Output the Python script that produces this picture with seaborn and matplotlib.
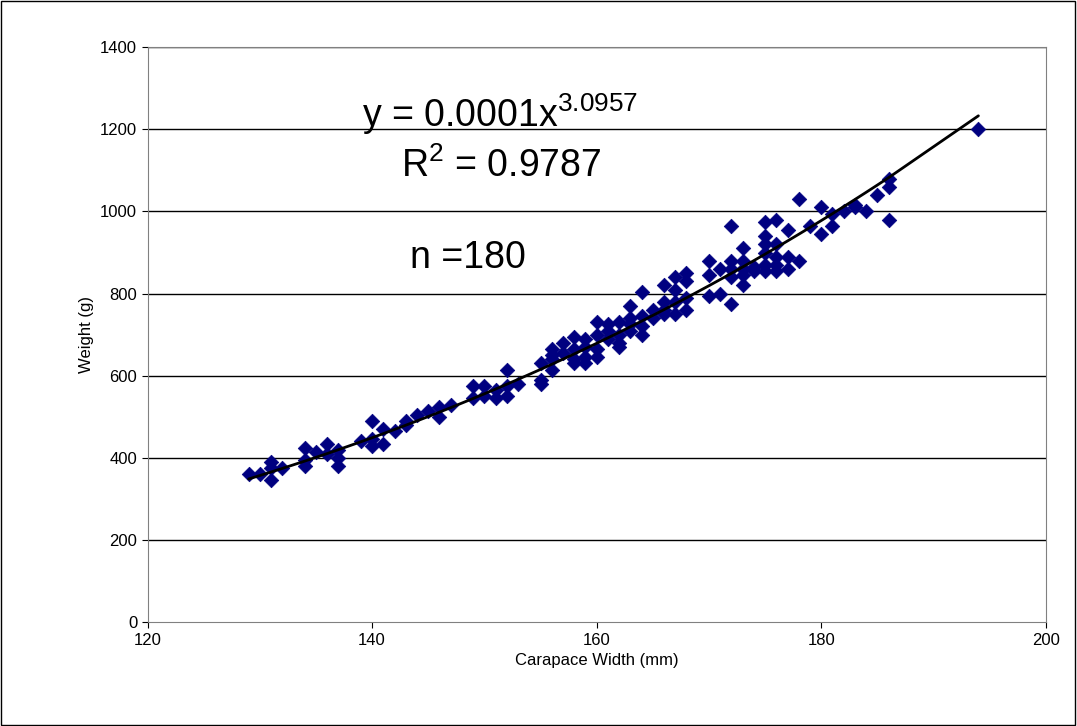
import numpy as np
import pandas as pd
import matplotlib
matplotlib.use("Agg")
import matplotlib.pyplot as plt
import seaborn as sns

# carapace width (mm) -> weights (g)
readings = {
    129: [360], 130: [360], 131: [390, 375, 345], 132: [375],
    134: [425, 395, 380], 135: [415], 136: [435, 410], 137: [420, 400, 380],
    139: [440], 140: [490, 445, 430], 141: [470, 435], 142: [465],
    143: [490, 480], 144: [505], 145: [515], 146: [525, 500], 147: [530],
    149: [575, 545], 150: [575, 550], 151: [565, 545], 152: [615, 575, 550],
    153: [580], 155: [630, 590, 580], 156: [665, 650, 640, 615],
    157: [680, 655], 158: [695, 665, 640, 630], 159: [690, 670, 645, 630],
    160: [730, 700, 665, 645], 161: [725, 710, 690], 162: [730, 700, 680, 670],
    163: [770, 740, 725, 710], 164: [805, 745, 720, 700], 165: [760, 740],
    166: [820, 780, 760, 750], 167: [840, 810, 780, 750],
    168: [850, 830, 790, 760], 170: [880, 845, 795], 171: [860, 800],
    172: [965, 880, 860, 840, 775], 173: [910, 880, 860, 845, 820],
    174: [865, 855], 175: [975, 940, 920, 900, 870, 855],
    176: [980, 920, 890, 870, 855], 177: [955, 890, 860], 178: [1030, 880],
    179: [965], 180: [1010, 945], 181: [995, 965], 182: [1000],
    183: [1015, 1010], 184: [1000], 185: [1040], 186: [1080, 1060, 980],
    194: [1200],
}
width = [w for w, ws in readings.items() for _ in ws]
weight = [v for ws in readings.values() for v in ws]
df = pd.DataFrame({"width": width, "weight": weight})

# power trendline coefficients
coef_a, coef_b = 0.000102, 3.0957

sns.set_style("white")
plt.rcParams['font.family'] = ['Liberation Sans', 'DejaVu Sans']
plt.rcParams['mathtext.fontset'] = 'custom'
plt.rcParams['mathtext.rm'] = 'Liberation Sans'
plt.rcParams['mathtext.default'] = 'rm'
plt.rcParams['text.color'] = 'black'
plt.rcParams['axes.labelcolor'] = 'black'
plt.rcParams['xtick.color'] = 'black'
plt.rcParams['ytick.color'] = 'black'

fig = plt.figure(figsize=(10.77, 7.26), dpi=100)
ax = fig.add_axes([0.137, 0.143, 0.834, 0.792])

for yv in range(200, 1401, 200):
    ax.axhline(yv, color='black', lw=1, zorder=0)

sns.scatterplot(data=df, x="width", y="weight", ax=ax, marker="D", s=55,
                color="#000080", edgecolor="#000080", linewidth=0.5, zorder=2)
xs = np.sort(df["width"].unique())
ax.plot(xs, coef_a * xs ** coef_b, color='black', lw=2, zorder=3)

ax.set_xlim(120, 200)
ax.set_ylim(0, 1400)
ax.set_xticks(range(120, 201, 20))
ax.set_yticks(range(0, 1401, 200))
ax.tick_params(labelsize=12, length=4, direction='out', bottom=True, left=True)
ax.set_xlabel("Carapace Width (mm)", fontsize=12)
ax.set_ylabel("Weight (g)", fontsize=12)
for s in ax.spines.values():
    s.set_color('#808080')

ax.text(151.4, 1238, r"y = 0.0001x$^{3.0957}$", fontsize=27, ha='center', va='center')
ax.text(151.5, 1110, r"R$^{2}$ = 0.9787", fontsize=27, ha='center', va='center')
ax.text(148.5, 886, "n =180", fontsize=27, ha='center', va='center')

fig.patches.append(plt.Rectangle((0.001, 0.002), 0.997, 0.996, transform=fig.transFigure,
                                 fill=False, edgecolor='black', lw=1))
fig.savefig("out.png", dpi=100)
